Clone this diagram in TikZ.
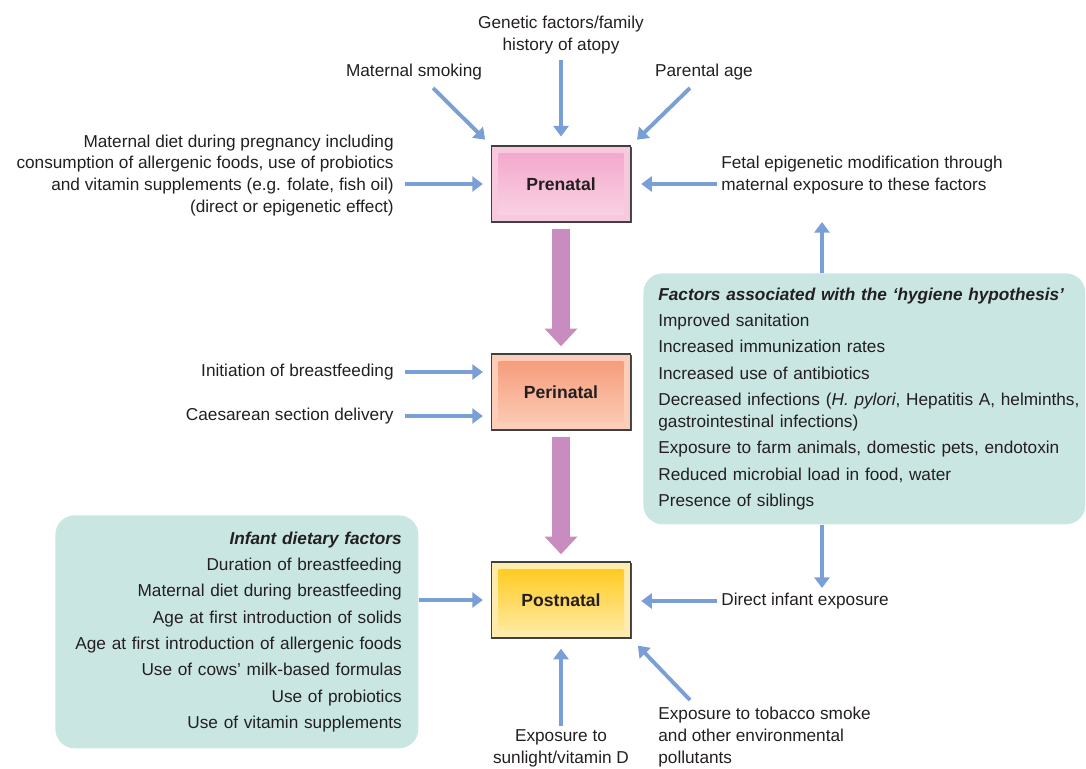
\documentclass[tikz,border=0pt]{standalone}
\usepackage{fontspec}
\setmainfont{Liberation Sans}
\usetikzlibrary{arrows.meta,shadows,positioning}

\definecolor{feedblue}{RGB}{122,158,214}
\definecolor{flowpink}{RGB}{200,140,192}
\definecolor{boxteal}{RGB}{201,230,226}
\definecolor{txt}{RGB}{35,31,32}
\definecolor{preOut}{RGB}{247,200,222}
\definecolor{preTop}{RGB}{242,164,201}
\definecolor{preBot}{RGB}{250,214,231}
\definecolor{periOut}{RGB}{252,206,186}
\definecolor{periTop}{RGB}{245,152,118}
\definecolor{periBot}{RGB}{252,206,184}
\definecolor{postOut}{RGB}{255,236,172}
\definecolor{postTop}{RGB}{255,199,20}
\definecolor{postBot}{RGB}{255,236,170}

\tikzset{
  lab/.style={font=\fontsize{9.8}{12.5}\selectfont, text=txt, inner sep=0pt},
  feed/.style={draw=feedblue, line width=2.2pt, -{Triangle[length=6pt,width=8.5pt]}},
  flow/.style={draw=flowpink, line width=10pt, -{Triangle[length=10pt,width=18pt]}},
  stage/.style n args={3}{draw=black!75, line width=0.8pt, fill=#1,
    minimum width=2.78cm, minimum height=1.52cm, text=txt,
    font=\fontsize{10}{12}\selectfont\bfseries,
    drop shadow={shadow xshift=0.7pt, shadow yshift=-0.7pt, fill=black!70, opacity=1},
    path picture={\shade[top color=#2, bottom color=#3]
      ([shift={(4pt,4pt)}]path picture bounding box.south west) rectangle
      ([shift={(-4pt,-4pt)}]path picture bounding box.north east);}},
  factbox/.style={fill=boxteal, rounded corners=11pt, text=txt, inner xsep=0pt}
}

\begin{document}
\begin{tikzpicture}[x=0.02cm, y=-0.02cm]
\useasboundingbox (0,0) rectangle (1086,768);

% stages
\node[stage={preOut}{preTop}{preBot}] (pre) at (561,184) {Prenatal};
\node[stage={periOut}{periTop}{periBot}] (peri) at (561,392) {Perinatal};
\node[stage={postOut}{postTop}{postBot}] (post) at (561,600) {Postnatal};
\draw[flow, shorten <=3.4pt, shorten >=4pt] (pre) -- (peri);
\draw[flow, shorten <=3.4pt, shorten >=4pt] (peri) -- (post);

% prenatal factors
\node[lab, align=center] (gen) at (561,35) {Genetic factors/family\\history of atopy};
\node[lab] (smoke) at (414,72) {Maternal smoking};
\node[lab] (parent) at (704,72) {Parental age};
\node[lab, align=right, anchor=east] (diet) at (394,175.5)
  {Maternal diet during pregnancy including\\consumption of allergenic foods, use of probiotics\\and vitamin supplements (e.g. folate, fish oil)\\(direct or epigenetic effect)};
\node[lab, align=left, anchor=west] (fetal) at (721,175)
  {Fetal epigenetic modification through\\maternal exposure to these factors};
\coordinate (smokeS) at (433,88);
\coordinate (parentS) at (690,88);
\draw[feed, shorten <=3pt, shorten >=5pt] (gen.south) -- (pre.north);
\draw[feed, shorten >=4.6pt] (smokeS) -- (pre.north west);
\draw[feed, shorten >=4.6pt] (parentS) -- (pre.north east);
\draw[feed, shorten <=6pt, shorten >=4.5pt] (diet.east |- pre.west) -- (pre.west);
\draw[feed, shorten <=2.3pt, shorten >=5.7pt] (fetal.west |- pre.east) -- (pre.east);

% hygiene hypothesis
\node[factbox, anchor=north west, minimum width=8.84cm, minimum height=5.02cm,
  text width=8.24cm, align=left, font=\fontsize{9.8}{12.5}\selectfont] (hyg) at (643,273)
  {\textbf{\textit{Factors associated with the ‘hygiene hypothesis’}}\\[2.5pt]
   Improved sanitation\\[2.5pt]
   Increased immunization rates\\[2.5pt]
   Increased use of antibiotics\\[2.5pt]
   \mbox{Decreased infections (\textit{H. pylori}, Hepatitis A, helminths,}\\
   gastrointestinal infections)\\[2.5pt]
   Exposure to farm animals, domestic pets, endotoxin\\[2.5pt]
   Reduced microbial load in food, water\\[2.5pt]
   Presence of siblings\\[4pt]};
\coordinate (hygup) at (822,222);
\coordinate (hygdown) at (822,588);
\draw[feed] (hyg.north -| hygup) -- (hygup);
\draw[feed] (hyg.south -| hygdown) -- (hygdown);

% perinatal factors
\node[lab, anchor=east] (init) at (394,372) {Initiation of breastfeeding};
\node[lab, anchor=east] (caes) at (394,416) {Caesarean section delivery};
\draw[feed, shorten <=6pt, shorten >=4.5pt] (init.east) -- (init.east -| peri.west);
\draw[feed, shorten <=6pt, shorten >=4.5pt] (caes.east) -- (caes.east -| peri.west);

% postnatal factors
\node[factbox, anchor=north west, minimum width=7.26cm, minimum height=4.66cm,
  text width=6.6cm, align=right, font=\fontsize{9.8}{15}\selectfont] (inf) at (55,515)
  {\textbf{\textit{Infant dietary factors}}\\
   Duration of breastfeeding\\
   Maternal diet during breastfeeding\\
   Age at first introduction of solids\\
   Age at first introduction of allergenic foods\\
   Use of cows’ milk-based formulas\\
   Use of probiotics\\
   Use of vitamin supplements};
\node[lab, anchor=west] (direct) at (721,601) {Direct infant exposure};
\node[lab, align=center] (sun) at (561,748) {Exposure to\\sunlight/vitamin D};
\node[lab, align=left, anchor=west] (smog) at (658,737)
  {Exposure to tobacco smoke\\and other environmental\\pollutants};
\coordinate (smogS) at (690,700);
\draw[feed, shorten >=4.5pt] (inf.east |- post.west) -- (post.west);
\draw[feed, shorten <=2.3pt, shorten >=5.7pt] (direct.west) -- (direct.west -| post.east);
\draw[feed, shorten <=1.5pt, shorten >=5.7pt] (sun.north) -- (post.south);
\draw[feed, shorten >=5.5pt] (smogS) -- (post.south east);
\end{tikzpicture}
\end{document}
